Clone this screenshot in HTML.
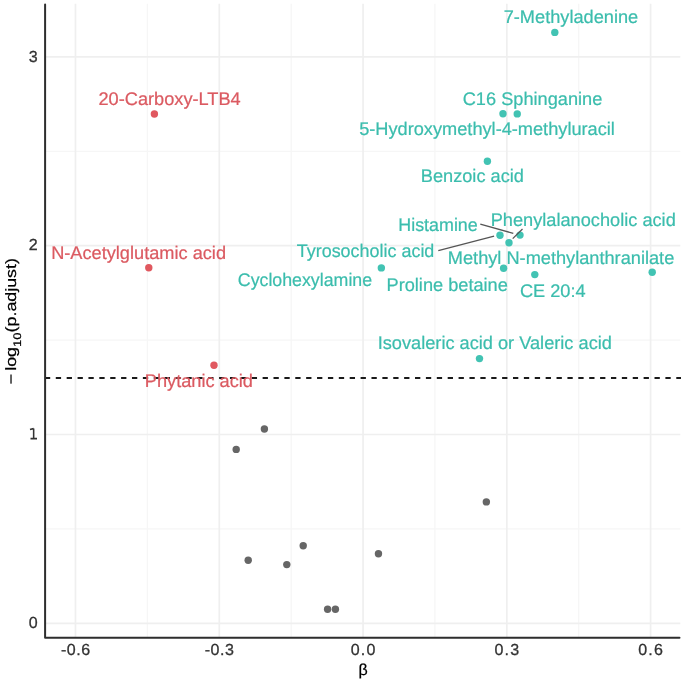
<!DOCTYPE html>
<html><head><meta charset="utf-8"><style>
html,body{margin:0;padding:0;background:#fff;width:685px;height:681px;overflow:hidden;}
svg{display:block;text-rendering:geometricPrecision;filter:blur(0.35px);}
</style></head><body>
<svg width="685" height="681" viewBox="0 0 685 681"><rect width="685" height="681" fill="#ffffff"/><line x1="147.39" y1="3.8" x2="147.39" y2="637.7" stroke="#f6f6f6" stroke-width="1.3"/><line x1="291.16" y1="3.8" x2="291.16" y2="637.7" stroke="#f6f6f6" stroke-width="1.3"/><line x1="434.94" y1="3.8" x2="434.94" y2="637.7" stroke="#f6f6f6" stroke-width="1.3"/><line x1="578.71" y1="3.8" x2="578.71" y2="637.7" stroke="#f6f6f6" stroke-width="1.3"/><line x1="45.1" y1="528.90" x2="680.3" y2="528.90" stroke="#f6f6f6" stroke-width="1.3"/><line x1="45.1" y1="340.10" x2="680.3" y2="340.10" stroke="#f6f6f6" stroke-width="1.3"/><line x1="45.1" y1="151.30" x2="680.3" y2="151.30" stroke="#f6f6f6" stroke-width="1.3"/><line x1="75.50" y1="3.8" x2="75.50" y2="637.7" stroke="#efefef" stroke-width="1.7"/><line x1="219.28" y1="3.8" x2="219.28" y2="637.7" stroke="#efefef" stroke-width="1.7"/><line x1="363.05" y1="3.8" x2="363.05" y2="637.7" stroke="#efefef" stroke-width="1.7"/><line x1="506.83" y1="3.8" x2="506.83" y2="637.7" stroke="#efefef" stroke-width="1.7"/><line x1="650.60" y1="3.8" x2="650.60" y2="637.7" stroke="#efefef" stroke-width="1.7"/><line x1="45.1" y1="623.30" x2="680.3" y2="623.30" stroke="#efefef" stroke-width="1.7"/><line x1="45.1" y1="434.50" x2="680.3" y2="434.50" stroke="#efefef" stroke-width="1.7"/><line x1="45.1" y1="245.70" x2="680.3" y2="245.70" stroke="#efefef" stroke-width="1.7"/><line x1="45.1" y1="56.90" x2="680.3" y2="56.90" stroke="#efefef" stroke-width="1.7"/><line x1="44.9" y1="378.1" x2="681" y2="378.1" stroke="#1a1a1a" stroke-width="2" stroke-dasharray="5.3 5.586"/><circle cx="264.4" cy="429" r="3.7" fill="#666666"/><circle cx="236.2" cy="449.4" r="3.7" fill="#666666"/><circle cx="248.2" cy="560.3" r="3.7" fill="#666666"/><circle cx="286.8" cy="564.6" r="3.7" fill="#666666"/><circle cx="303.2" cy="545.7" r="3.7" fill="#666666"/><circle cx="378.45" cy="553.7" r="3.7" fill="#666666"/><circle cx="486.35" cy="501.9" r="3.7" fill="#666666"/><circle cx="327.6" cy="609.3" r="3.7" fill="#666666"/><circle cx="335.4" cy="609.3" r="3.7" fill="#666666"/><circle cx="154.4" cy="114" r="3.7" fill="#e0585f"/><circle cx="148.8" cy="267.8" r="3.7" fill="#e0585f"/><circle cx="214" cy="365.3" r="3.7" fill="#e0585f"/><circle cx="554.8" cy="32.4" r="3.7" fill="#42c3b3"/><circle cx="503.0" cy="113.8" r="3.7" fill="#42c3b3"/><circle cx="517.25" cy="113.9" r="3.7" fill="#42c3b3"/><circle cx="487.4" cy="161.3" r="3.7" fill="#42c3b3"/><circle cx="500.0" cy="235.25" r="3.7" fill="#42c3b3"/><circle cx="520.0" cy="235.1" r="3.7" fill="#42c3b3"/><circle cx="509.0" cy="242.75" r="3.7" fill="#42c3b3"/><circle cx="503.6" cy="268.2" r="3.7" fill="#42c3b3"/><circle cx="381.35" cy="267.9" r="3.7" fill="#42c3b3"/><circle cx="534.8" cy="274.6" r="3.7" fill="#42c3b3"/><circle cx="652.2" cy="272.3" r="3.7" fill="#42c3b3"/><circle cx="479.5" cy="358.6" r="3.7" fill="#42c3b3"/><line x1="480.3" y1="224.2" x2="513.3" y2="233.4" stroke="#555555" stroke-width="1.3"/><line x1="522.5" y1="229" x2="512.7" y2="238.6" stroke="#555555" stroke-width="1.3"/><line x1="438.3" y1="250.6" x2="494.1" y2="236.2" stroke="#555555" stroke-width="1.3"/><g font-family="Liberation Sans, sans-serif" font-size="18.2" text-anchor="middle" stroke-width="0.22"><text x="570.95" y="23.40" fill="#3bbdad" stroke="#3bbdad">7-Methyladenine</text><text x="169.60" y="104.90" fill="#db5a61" stroke="#db5a61">20-Carboxy-LTB4</text><text x="138.60" y="259.40" fill="#db5a61" stroke="#db5a61">N-Acetylglutamic acid</text><text x="487.05" y="135.20" fill="#3bbdad" stroke="#3bbdad">5-Hydroxymethyl-4-methyluracil</text><text x="494.80" y="348.80" fill="#3bbdad" stroke="#3bbdad">Isovaleric acid or Valeric acid</text><text x="532.50" y="105.20" fill="#3bbdad" stroke="#3bbdad">C16 Sphinganine</text><text x="472.35" y="182.40" fill="#3bbdad" stroke="#3bbdad">Benzoic acid</text><text x="438.00" y="230.60" fill="#3bbdad" stroke="#3bbdad" textLength="79.5" lengthAdjust="spacingAndGlyphs">Histamine</text><text x="583.25" y="226.20" fill="#3bbdad" stroke="#3bbdad">Phenylalanocholic acid</text><text x="365.55" y="257.40" fill="#3bbdad" stroke="#3bbdad" textLength="137.6" lengthAdjust="spacingAndGlyphs">Tyrosocholic acid</text><text x="561.05" y="264.10" fill="#3bbdad" stroke="#3bbdad">Methyl N-methylanthranilate</text><text x="304.95" y="286.30" fill="#3bbdad" stroke="#3bbdad" textLength="134.3" lengthAdjust="spacingAndGlyphs">Cyclohexylamine</text><text x="447.20" y="290.90" fill="#3bbdad" stroke="#3bbdad">Proline betaine</text><text x="552.75" y="296.50" fill="#3bbdad" stroke="#3bbdad">CE 20:4</text><text x="198.90" y="387.00" fill="#db5a61" stroke="#db5a61">Phytanic acid</text></g><path d="M45.1 4.5 V637.7 H679.5" fill="none" stroke="#2e2e2e" stroke-width="2" stroke-linecap="round" stroke-linejoin="round"/><g font-family="Liberation Sans, sans-serif" font-size="16" fill="#333333" stroke="#333333" stroke-width="0.3"><text x="37.6" y="627.80" text-anchor="end">0</text><text x="37.6" y="250.30" text-anchor="end">2</text><text x="37.6" y="61.60" text-anchor="end">3</text><text x="75.50" y="655.2" text-anchor="middle" textLength="29.2" lengthAdjust="spacing">-0.6</text><text x="219.28" y="655.2" text-anchor="middle" textLength="29.2" lengthAdjust="spacing">-0.3</text><text x="363.05" y="655.2" text-anchor="middle" textLength="24.6" lengthAdjust="spacing">0.0</text><text x="506.83" y="655.2" text-anchor="middle" textLength="24.6" lengthAdjust="spacing">0.3</text><text x="650.60" y="655.2" text-anchor="middle" textLength="24.6" lengthAdjust="spacing">0.6</text></g><path d="M33.65 428.4 V438.6 M30 429.6 L33.65 428.5 M30.5 438.6 H37" fill="none" stroke="#333333" stroke-width="1.55"/><text x="363" y="674.8" font-family="Liberation Sans, sans-serif" font-size="16" text-anchor="middle" fill="#000" stroke="#000" stroke-width="0.25">β</text><text transform="translate(16.4,321.15) rotate(-90)" font-family="Liberation Sans, sans-serif" font-size="15" text-anchor="middle" fill="#000" stroke="#000" stroke-width="0.2" textLength="126" lengthAdjust="spacingAndGlyphs">−<tspan dx="2.5">log</tspan><tspan font-size="11" dy="4.5">10</tspan><tspan dy="-4.5">(p.adjust)</tspan></text></svg>
</body></html>
